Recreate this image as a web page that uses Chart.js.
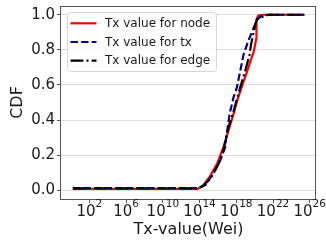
<!DOCTYPE html>
<html>
<head>
<meta charset="utf-8">
<script src="https://cdn.jsdelivr.net/npm/chart.js@4.4.1/dist/chart.umd.min.js"></script>
<style>
  body { margin: 0; background: #fff; }
  #wrap { width: 326px; height: 241px; }
</style>
</head>
<body>
<div id="wrap"><canvas id="cdfChart"></canvas></div>
<script>
// x values are log10(Wei)
const nodeExp = [0.2, 13.8, 14.4, 15.2, 15.9, 16.6, 17.15, 17.7, 18.1, 18.6, 19.2, 19.7, 19.9, 20.2, 20.2, 20.4, 21.0, 25.4];
const nodeCdf = [0.008, 0.008, 0.028, 0.085, 0.15, 0.246, 0.34, 0.435, 0.51, 0.59, 0.68, 0.76, 0.79, 0.87, 0.975, 0.996, 1.0, 1.0];

const txExp = [0.2, 13.7, 14.6, 15.5, 16.25, 16.8, 16.9, 17.27, 17.7, 18.07, 18.43, 18.8, 19.3, 19.9, 20.26, 20.8, 21.5, 25.4];
const txCdf = [0.012, 0.012, 0.028, 0.095, 0.17, 0.246, 0.30, 0.435, 0.53, 0.586, 0.68, 0.775, 0.85, 0.926, 0.973, 0.995, 1.0, 1.0];

const edgeExp = [0.2, 13.8, 14.25, 15.2, 16.07, 16.6, 17.15, 17.7, 18.07, 18.43, 18.97, 19.45, 19.6, 19.9, 20.07, 20.26, 20.95, 21.5, 25.4];
const edgeCdf = [0.01, 0.01, 0.02, 0.066, 0.15, 0.227, 0.36, 0.45, 0.52, 0.586, 0.68, 0.775, 0.83, 0.9, 0.945, 0.973, 0.99, 1.0, 1.0];

const seriesLabels = ['Tx value for node', 'Tx value for tx', 'Tx value for edge'];
const xTickExps = [2, 6, 10, 14, 18, 22, 26];
const yTicks = [0, 0.2, 0.4, 0.6, 0.8, 1.0];

const toPoints = (ex, cdf) => ex.map((e, i) => ({x: Math.pow(10, e), y: cdf[i]}));

Chart.defaults.font.family = '"DejaVu Sans", sans-serif';
Chart.defaults.color = '#1a1a1a';

// matplotlib-like legend box inside the axes, frame, and 10^n tick labels
const extras = {
  id: 'extras',
  afterDatasetsDraw(chart) {
    const c = chart.ctx;
    c.save();
    c.beginPath();
    c.roundRect(67.5, 12.5, 149, 59, 3);
    c.fillStyle = 'rgba(255,255,255,0.8)';
    c.fill();
    c.strokeStyle = '#d6d6d6';
    c.lineWidth = 1;
    c.stroke();
    const rows = [23.3, 42, 60.7];
    chart.data.datasets.forEach((ds, i) => {
      c.beginPath();
      c.setLineDash(ds.borderDash || []);
      c.strokeStyle = ds.borderColor;
      c.lineWidth = ds.borderWidth;
      c.moveTo(70.5, rows[i]);
      c.lineTo(96.5, rows[i]);
      c.stroke();
      c.setLineDash([]);
      c.fillStyle = '#1a1a1a';
      c.font = '12px "DejaVu Sans"';
      c.textBaseline = 'middle';
      c.fillText(ds.label, 105, rows[i] + 0.5);
    });
    c.restore();
  },
  afterDraw(chart) {
    const a = chart.chartArea;
    const c = chart.ctx;
    c.save();
    c.strokeStyle = '#555';
    c.lineWidth = 1;
    c.strokeRect(Math.round(a.left) - 0.5, Math.round(a.top) + 0.5, Math.round(a.right - a.left), Math.round(a.bottom - a.top));

    const xs = chart.scales.x;
    c.fillStyle = '#1a1a1a';
    c.textBaseline = 'alphabetic';
    c.textAlign = 'left';
    xTickExps.forEach(e => {
      const px = xs.getPixelForValue(Math.pow(10, e));
      c.font = '15px "DejaVu Sans"';
      const wBase = c.measureText('10').width;
      c.font = '10.5px "DejaVu Sans"';
      const wExp = c.measureText(String(e)).width;
      const x0 = px - (wBase + wExp) / 2;
      c.font = '15px "DejaVu Sans"';
      c.fillText('10', x0, 216);
      c.font = '10.5px "DejaVu Sans"';
      c.fillText(String(e), x0 + wBase, 207.3);
    });
    c.restore();
  }
};

new Chart(document.getElementById('cdfChart'), {
  type: 'scatter',
  data: {
    datasets: [
      {label: seriesLabels[0], data: toPoints(nodeExp, nodeCdf), borderColor: '#ff0000', borderWidth: 2.2, showLine: true, pointRadius: 0, order: 3},
      {label: seriesLabels[1], data: toPoints(txExp, txCdf), borderColor: '#00008b', borderWidth: 2.2, borderDash: [7.4, 3.2], showLine: true, pointRadius: 0, order: 2},
      {label: seriesLabels[2], data: toPoints(edgeExp, edgeCdf), borderColor: '#000000', borderWidth: 2.2, borderDash: [12.8, 3.2, 2, 3.2], showLine: true, pointRadius: 0, order: 1}
    ]
  },
  options: {
    responsive: true,
    maintainAspectRatio: false,
    devicePixelRatio: 1,
    animation: false,
    layout: {padding: {left: 0, right: 10, top: 6, bottom: 0}},
    plugins: {legend: {display: false}, tooltip: {enabled: false}},
    scales: {
      x: {
        type: 'logarithmic',
        min: Math.pow(10, -1.09),
        max: Math.pow(10, 26.68),
        afterBuildTicks: s => { s.ticks = xTickExps.map(e => ({value: Math.pow(10, e)})); },
        afterFit: s => { s.height = 42; s.paddingLeft = 0; s.paddingRight = 0; },
        ticks: {display: false, autoSkip: false, maxRotation: 0},
        grid: {drawOnChartArea: false, tickLength: 4, tickColor: '#555'},
        border: {display: false},
        title: {display: true, text: 'Tx-value(Wei)', font: {size: 16}, padding: {top: 0, bottom: 2}}
      },
      y: {
        min: -0.05,
        max: 1.05,
        afterBuildTicks: s => { s.ticks = yTicks.map(v => ({value: v})); },
        afterFit: s => { s.width = 61; s.paddingTop = 0; s.paddingBottom = 0; },
        ticks: {padding: 2, font: {size: 15}, callback: v => v.toFixed(1)},
        grid: {color: '#dcdcdc', tickLength: 4, tickColor: '#555'},
        border: {display: false},
        title: {display: true, text: 'CDF', font: {size: 16}, padding: {top: 8, bottom: 0}}
      }
    }
  },
  plugins: [extras]
});
</script>
</body>
</html>
